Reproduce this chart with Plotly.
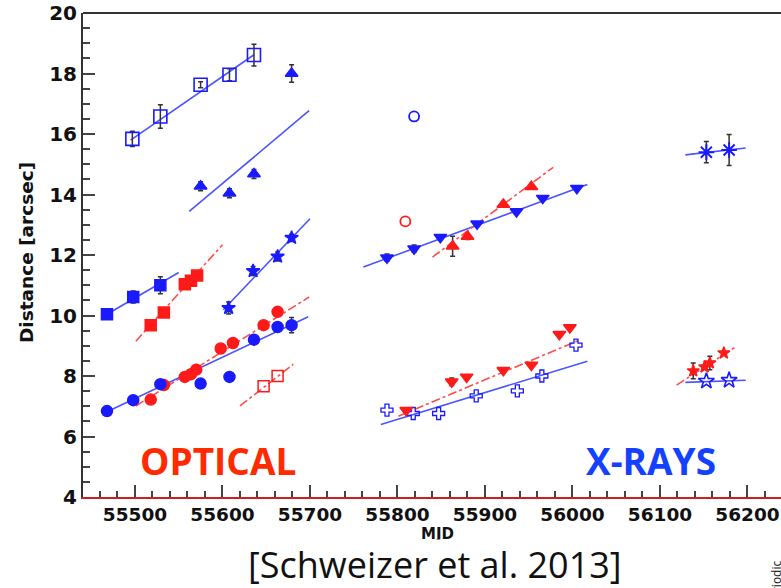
import plotly.graph_objects as go

# ---------------- optical monitoring ----------------
opt_sq_open_x = [55497, 55529, 55575, 55608, 55636]
opt_sq_open_y = [15.84, 16.58, 17.63, 17.96, 18.61]
opt_sq_open_err = [0.25, 0.39, 0.1, 0.2, 0.36]
opt_sq_open_fit_x = [55495, 55636]
opt_sq_open_fit_y = [15.80, 18.62]

opt_tri_x = [55575, 55608, 55636, 55679]
opt_tri_y = [14.27, 14.04, 14.68, 18.0]
opt_tri_err = [0.15, 0.15, 0.15, 0.29]
opt_tri_fit_x = [55562, 55699]
opt_tri_fit_y = [13.44, 16.77]

opt_sq_blue_x = [55468, 55498, 55529]
opt_sq_blue_y = [10.04, 10.61, 11.0]
opt_sq_blue_err = [0.05, 0.2, 0.28]
opt_sq_blue_fit_x = [55468, 55550]
opt_sq_blue_fit_y = [10.04, 11.42]

opt_sq_red_x = [55518, 55533, 55557, 55564, 55571]
opt_sq_red_y = [9.68, 10.1, 11.03, 11.15, 11.32]
opt_sq_red_fit_x = [55501, 55600]
opt_sq_red_fit_y = [9.15, 12.34]

opt_star_x = [55607, 55635, 55663, 55679]
opt_star_y = [10.25, 11.47, 11.95, 12.57]
opt_star_err = [0.2, 0.15, 0.15, 0.12]
opt_star_fit_x = [55601, 55700]
opt_star_fit_y = [10.19, 13.2]

opt_circ_red_x = [55518, 55533, 55557, 55564, 55570, 55598, 55612, 55647, 55663]
opt_circ_red_y = [7.22, 7.70, 7.97, 8.06, 8.21, 8.91, 9.09, 9.68, 10.12]
opt_circ_red_fit_x = [55501, 55699]
opt_circ_red_fit_y = [7.01, 10.61]

opt_circ_blue_x = [55468, 55498, 55529, 55575, 55608, 55636, 55663, 55679]
opt_circ_blue_y = [6.84, 7.2, 7.73, 7.75, 7.97, 9.2, 9.62, 9.68]
opt_circ_blue_err = [0, 0, 0, 0, 0, 0, 0, 0.25]
opt_circ_blue_fit_x = [55468, 55698]
opt_circ_blue_fit_y = [6.82, 9.96]

opt_sq_open_red_x = [55647, 55663]
opt_sq_open_red_y = [7.66, 8.0]
opt_sq_open_red_fit_x = [55620, 55681]
opt_sq_open_red_fit_y = [7.01, 8.39]

# ---------------- X-ray monitoring ----------------
xr_circ_open_red_x = [55809]
xr_circ_open_red_y = [13.11]
xr_circ_open_blue_x = [55819]
xr_circ_open_blue_y = [16.58]

xr_tdown_blue_x = [55788, 55819, 55849, 55891, 55936, 55966, 56005]
xr_tdown_blue_y = [11.91, 12.21, 12.59, 13.03, 13.44, 13.88, 14.21]
xr_tdown_blue_err = [0.12, 0.12, 0, 0, 0, 0, 0]
xr_tdown_blue_fit_x = [55761, 56017]
xr_tdown_blue_fit_y = [11.6, 14.33]

xr_tup_red_x = [55863, 55880, 55921, 55953]
xr_tup_red_y = [12.29, 12.61, 13.67, 14.26]
xr_tup_red_err = [0.33, 0.1, 0, 0]
xr_tup_red_fit_x = [55840, 55978]
xr_tup_red_fit_y = [11.93, 14.9]

xr_cross_x = [55788, 55818, 55847, 55890, 55937, 55965, 56004]
xr_cross_y = [6.87, 6.76, 6.76, 7.34, 7.51, 8.0, 9.02]
xr_cross_fit_x = [55781, 56017]
xr_cross_fit_y = [6.4, 8.49]

xr_tdown_red_x = [55810, 55862, 55879, 55921, 55953, 55985, 55997]
xr_tdown_red_y = [6.87, 7.81, 7.97, 8.19, 8.36, 9.38, 9.6]
xr_tdown_red_err = [0, 0.12, 0, 0, 0, 0, 0]
xr_tdown_red_fit_x = [55801, 56009]
xr_tdown_red_fit_y = [6.67, 9.2]

xr_ast_x = [56153, 56179]
xr_ast_y = [15.4, 15.47]
xr_ast_err = [0.35, 0.51]
xr_ast_fit_x = [56129, 56198]
xr_ast_fit_y = [15.31, 15.54]

xr_star_red_x = [56138, 56151, 56157, 56173]
xr_star_red_y = [8.17, 8.3, 8.43, 8.76]
xr_star_red_err = [0.26, 0, 0.22, 0]
xr_star_red_fit_x = [56119, 56188]
xr_star_red_fit_y = [7.7, 8.99]

xr_star_blue_x = [56153, 56179]
xr_star_blue_y = [7.83, 7.86]
xr_star_blue_fit_x = [56129, 56198]
xr_star_blue_fit_y = [7.79, 7.86]

BLUE = "#1a1aff"
RED = "#ff1a1a"
BLUE_LINE = "#4a55ff"
RED_LINE = "#ff4d4d"
ERR = "#333333"

# page size and plot-area box (pixels)
W, H = 781, 588
L, R, T, B = 83, 781, 13, 497

fig = go.Figure()


def fit(x, y, color, dash):
    fig.add_trace(go.Scatter(x=x, y=y, mode="lines", showlegend=False,
                             line=dict(color=color, width=1.6, dash=dash),
                             hoverinfo="skip"))


def points(x, y, symbol, color, size, err=None, lw=1.5):
    ey = None
    if err is not None:
        ey = dict(type="data", array=err, visible=True, color=ERR,
                  thickness=1.5, width=2.5)
    fig.add_trace(go.Scatter(x=x, y=y, mode="markers", showlegend=False,
                             error_y=ey,
                             marker=dict(symbol=symbol, color=color, size=size,
                                         line=dict(color=color, width=lw))))


# regression lines
fit(opt_sq_open_fit_x, opt_sq_open_fit_y, BLUE_LINE, "solid")
fit(opt_tri_fit_x, opt_tri_fit_y, BLUE_LINE, "solid")
fit(opt_sq_blue_fit_x, opt_sq_blue_fit_y, BLUE_LINE, "solid")
fit(opt_sq_red_fit_x, opt_sq_red_fit_y, RED_LINE, "dashdot")
fit(opt_star_fit_x, opt_star_fit_y, BLUE_LINE, "solid")
fit(opt_circ_red_fit_x, opt_circ_red_fit_y, RED_LINE, "dashdot")
fit(opt_circ_blue_fit_x, opt_circ_blue_fit_y, BLUE_LINE, "solid")
fit(opt_sq_open_red_fit_x, opt_sq_open_red_fit_y, RED_LINE, "dashdot")
fit(xr_tdown_blue_fit_x, xr_tdown_blue_fit_y, BLUE_LINE, "solid")
fit(xr_tup_red_fit_x, xr_tup_red_fit_y, RED_LINE, "dashdot")
fit(xr_cross_fit_x, xr_cross_fit_y, BLUE_LINE, "solid")
fit(xr_tdown_red_fit_x, xr_tdown_red_fit_y, RED_LINE, "dashdot")
fit(xr_ast_fit_x, xr_ast_fit_y, BLUE_LINE, "solid")
fit(xr_star_red_fit_x, xr_star_red_fit_y, RED_LINE, "dashdot")
fit(xr_star_blue_fit_x, xr_star_blue_fit_y, BLUE_LINE, "solid")

# measurements
points(opt_sq_open_x, opt_sq_open_y, "square-open", BLUE, 13, opt_sq_open_err, 1.6)
points(opt_tri_x, opt_tri_y, "triangle-up", BLUE, 11, opt_tri_err)
points(opt_sq_blue_x, opt_sq_blue_y, "square", BLUE, 11, opt_sq_blue_err)
points(opt_sq_red_x, opt_sq_red_y, "square", RED, 11)
points(opt_star_x, opt_star_y, "star", BLUE, 10, opt_star_err)
points(opt_circ_red_x, opt_circ_red_y, "circle", RED, 11)
points(opt_circ_blue_x, opt_circ_blue_y, "circle", BLUE, 11, opt_circ_blue_err)
points(opt_sq_open_red_x, opt_sq_open_red_y, "square-open", RED, 11)
points(xr_circ_open_red_x, xr_circ_open_red_y, "circle-open", RED, 10, None, 1.8)
points(xr_circ_open_blue_x, xr_circ_open_blue_y, "circle-open", BLUE, 10, None, 1.8)
points(xr_tdown_blue_x, xr_tdown_blue_y, "triangle-down", BLUE, 11, xr_tdown_blue_err)
points(xr_tup_red_x, xr_tup_red_y, "triangle-up", RED, 11, xr_tup_red_err)
points(xr_cross_x, xr_cross_y, "cross-open", BLUE, 10, None, 1.3)
points(xr_tdown_red_x, xr_tdown_red_y, "triangle-down", RED, 11, xr_tdown_red_err)
points(xr_ast_x, xr_ast_y, "asterisk-open", BLUE, 13, xr_ast_err, 2)
points(xr_star_red_x, xr_star_red_y, "star", RED, 9, xr_star_red_err)
points(xr_star_blue_x, xr_star_blue_y, "star-open", BLUE, 12, None, 1.6)

tickfont = dict(family="DejaVu Sans", size=20, color="#111111", weight="bold")

fig.update_layout(
    width=W, height=H,
    margin=dict(l=L, r=W - R, t=T, b=H - B),
    paper_bgcolor="white", plot_bgcolor="white",
    xaxis=dict(range=[55440.6, 56238.3], tick0=55500, dtick=100, tickformat="d",
               ticks="inside", ticklen=12, tickwidth=1.5, tickcolor="#444444",
               minor=dict(dtick=20, ticks="inside", ticklen=6, tickwidth=1.5,
                          tickcolor="#444444", showgrid=False),
               showgrid=False, zeroline=False, showline=True,
               linecolor="#cc2020", linewidth=2,
               tickfont=dict(family="DejaVu Sans", size=18.5, color="#111111",
                             weight="bold")),
    yaxis=dict(range=[4, 20], tick0=4, dtick=2,
               ticks="inside", ticklen=12, tickwidth=1.5, tickcolor="#444444",
               minor=dict(dtick=0.5, ticks="inside", ticklen=7, tickwidth=1.5,
                          tickcolor="#444444", showgrid=False),
               showgrid=False, zeroline=False, showline=True,
               linecolor="#333333", linewidth=2, tickfont=tickfont),
    shapes=[dict(type="line", xref="paper", yref="paper", x0=0, x1=1, y0=1, y1=1,
                 line=dict(color="#333333", width=2))],
)

annotations = [
    dict(text="Distance [arcsec]", x=26, y=253, textangle=-90,
         font=dict(family="DejaVu Sans", size=18.5, color="#111111", weight="bold")),
    dict(text="MJD", x=437, y=534,
         font=dict(family="DejaVu Sans", size=15, color="#111111", weight="bold")),
    dict(text="[Schweizer et al. 2013]", x=435, y=564, bgcolor="white",
         font=dict(family="Open Sans", size=36, color="#111111")),
    dict(text="OPTICAL", x=218, y=460,
         font=dict(family="Open Sans", size=37, color="#ff2a00", weight="bold")),
    dict(text="X-RAYS", x=651, y=460,
         font=dict(family="Open Sans", size=37, color="#1440ff", weight="bold")),
    dict(text="Periodic", x=776, y=584, textangle=-90,
         font=dict(family="Open Sans", size=12, color="#111111")),
]
for a in annotations:
    fig.add_annotation(xref="paper", yref="paper",
                       x=(a["x"] - L) / (R - L), y=(B - a["y"]) / (B - T),
                       xanchor="center", yanchor="middle", showarrow=False,
                       text=a["text"], textangle=a.get("textangle", 0),
                       font=a["font"], bgcolor=a.get("bgcolor"), borderpad=0)

fig.write_html("out.html")
